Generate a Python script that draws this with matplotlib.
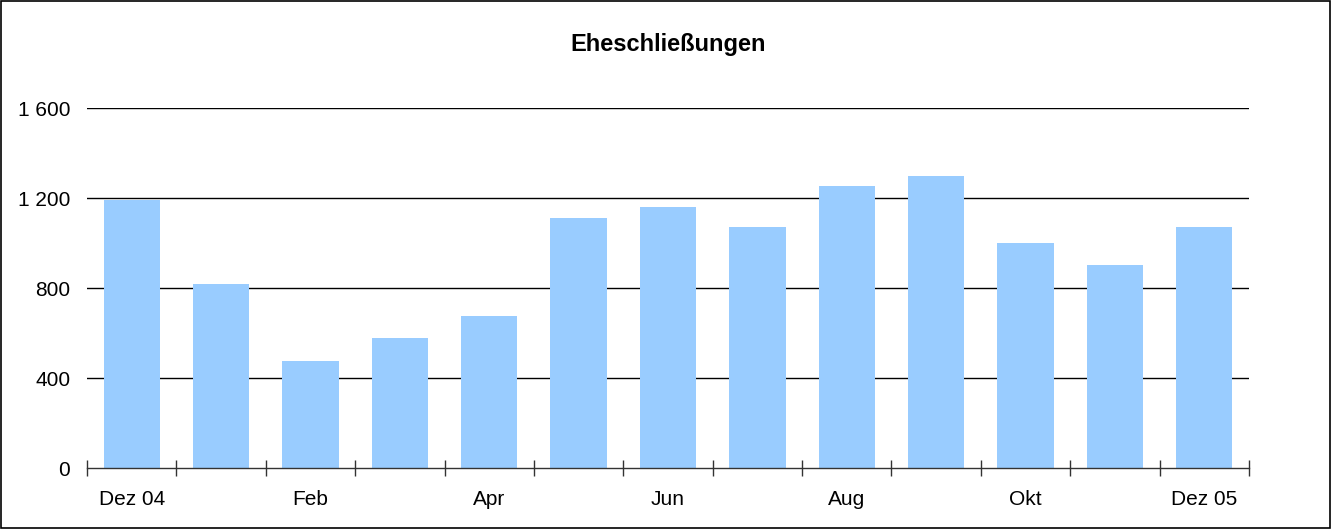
"""
Eheschließungen, Dez 04 bis Dez 05, als Säulendiagramm.
"""

import matplotlib
matplotlib.use("Agg")
import matplotlib.pyplot as plt
from matplotlib.patches import Rectangle
import numpy as np

months = ["Dez 04", "Jan", "Feb", "Mär", "Apr", "Mai", "Jun",
          "Jul", "Aug", "Sep", "Okt", "Nov", "Dez 05"]
values = [1192, 819, 477, 579, 676, 1112, 1161, 1072, 1254, 1299, 1001, 904, 1072]
shown_labels = ["Dez 04", "Feb", "Apr", "Jun", "Aug", "Okt", "Dez 05"]
y_ticks = [0, 400, 800, 1200, 1600]
y_labels = ["0", "400", "800", "1 200", "1 600"]

plt.rcParams["font.family"] = ["Liberation Sans", "DejaVu Sans"]

fig = plt.figure(figsize=(13.32, 5.29), dpi=100)
ax = fig.add_axes([87 / 1332, 1 - 468 / 529, (1249 - 87) / 1332, 360 / 529])

x = np.arange(len(months))
ax.bar(x, values, width=0.63, color="#99CCFF", zorder=2)

ax.set_xlim(-0.5, len(months) - 0.5)
ax.set_ylim(0, 1600)

ax.set_yticks(y_ticks)
ax.set_yticklabels(y_labels, fontsize=15)
ax.tick_params(axis="y", length=0, pad=12)
for yv in y_ticks[1:]:
    ax.axhline(yv, color="black", lw=1, zorder=1)

# boundary ticks without labels, month labels at bar centers
ax.set_xticks(np.arange(len(months) + 1) - 0.5)
ax.set_xticklabels([])
ax.tick_params(axis="x", which="major", direction="inout", length=12, width=1, color="#333333")
ax.set_xticks(x, minor=True)
ax.set_xticklabels([m if m in shown_labels else "" for m in months], minor=True, fontsize=15)
ax.tick_params(axis="x", which="minor", length=0, pad=16)

for side in ["left", "right", "top"]:
    ax.spines[side].set_visible(False)
ax.spines["bottom"].set_color("#333333")
ax.spines["bottom"].set_linewidth(1)
ax.spines["bottom"].set_zorder(3)

fig.text(668 / 1332, 1 - 44 / 529, "Eheschließungen", ha="center", va="center",
         fontsize=17, fontweight="bold")

fig.patches.append(Rectangle((0.0005, 0.001), 0.998, 0.997, transform=fig.transFigure,
                             fill=False, edgecolor="black", lw=1.2))

fig.savefig("out.png", dpi=100)
